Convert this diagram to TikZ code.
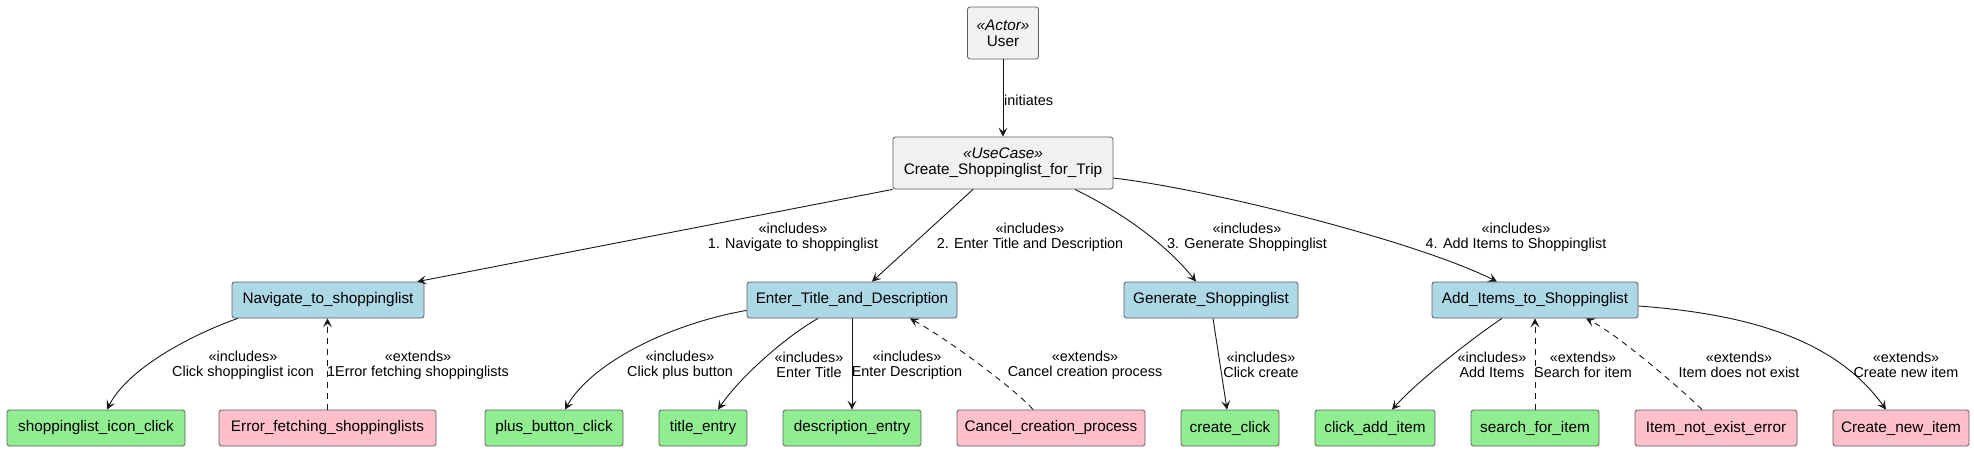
\documentclass[tikz,border=0pt]{standalone}
\usepackage{fontspec}
\setmainfont{Liberation Sans}
\usetikzlibrary{arrows.meta,calc}
\definecolor{boxgray}{HTML}{F1F1F1}
\definecolor{boxblue}{HTML}{ADD8E6}
\definecolor{boxgreen}{HTML}{90EE90}
\definecolor{boxpink}{HTML}{FFC0CB}
\definecolor{edgecol}{HTML}{181818}
\definecolor{bordercol}{HTML}{5E5E5E}
\begin{document}
\begin{tikzpicture}[x=1pt,y=-1pt,
  box/.style={draw=bordercol,line width=0.8pt,rounded corners=2.5pt,inner sep=0pt,
    minimum height=36pt,font=\fontsize{15.3}{16}\selectfont,align=center,text=black},
  gbox/.style={box,fill=boxgray,minimum height=52pt},
  bbox/.style={box,fill=boxblue},
  grbox/.style={box,fill=boxgreen},
  pbox/.style={box,fill=boxpink},
  rel/.style={draw=edgecol,line width=0.9pt,-{Stealth[length=9pt,width=9pt,inset=4pt]}},
  ext/.style={rel,dash pattern=on 6pt off 5pt},
  lbl/.style={font=\fontsize{14.4}{14.7}\selectfont,align=center,inner sep=0pt,text=black}
]
\fill[white] (0,0) rectangle (1974,451);
\useasboundingbox (0,0) rectangle (1974,451);

% top
\node[gbox,minimum width=71pt] (user) at (1003,33) {{\itshape «Actor»}\\User};
\node[gbox,minimum width=220pt] (create) at (1003,163) {{\itshape «UseCase»}\\Create\_Shoppinglist\_for\_Trip};

% middle row
\node[bbox,minimum width=192pt] (nav) at (328,300) {Navigate\_to\_shoppinglist};
\node[bbox,minimum width=210pt] (enter) at (852,300) {Enter\_Title\_and\_Description};
\node[bbox,minimum width=174pt] (gen) at (1211,300) {Generate\_Shoppinglist};
\node[bbox,minimum width=206pt] (add) at (1535,300) {Add\_Items\_to\_Shoppinglist};

% bottom row
\node[grbox,minimum width=178pt] (icon) at (96,428) {shoppinglist\_icon\_click};
\node[pbox,minimum width=217pt] (err) at (327.5,428) {Error\_fetching\_shoppinglists};
\node[grbox,minimum width=138pt] (plus) at (554,428) {plus\_button\_click};
\node[grbox,minimum width=88pt] (title) at (703,428) {title\_entry};
\node[grbox,minimum width=138pt] (desc) at (852,428) {description\_entry};
\node[pbox,minimum width=188pt] (cancel) at (1051,428) {Cancel\_creation\_process};
\node[grbox,minimum width=98pt] (cclick) at (1230,428) {create\_click};
\node[grbox,minimum width=120pt] (caddi) at (1375,428) {click\_add\_item};
\node[grbox,minimum width=128pt] (search) at (1535,428) {search\_for\_item};
\node[pbox,minimum width=162pt] (inee) at (1716,428) {Item\_not\_exist\_error};
\node[pbox,minimum width=136pt] (cnew) at (1901,428) {Create\_new\_item};

% connectors
\draw[rel] (user.south) -- (create.north);
\node[lbl,anchor=west] (linit) at (1004,100) {initiates};

\draw[rel] (create.south west) -- ($(nav.north east)+(-7,0)$);
\node[lbl] (l1) at (793,237) {«includes»\\1. Navigate to shoppinglist};

\draw[rel] ($(create.south)+(-30,0)$) -- ($(enter.north)+(20,0)$);
\node[lbl] (l2) at (1030,237) {«includes»\\2. Enter Title and Description};

\draw[rel] ($(create.south)+(72,0)$) .. controls +(45,22) and +(-30,-38) .. ($(gen.north)+(-15,0)$);
\node[lbl] (l3) at (1247,237) {«includes»\\3. Generate Shoppinglist};

\draw[rel] ($(create.east)+(0,15)$) .. controls +(100,12) and +(-80,-40) .. ($(add.north)+(-38,0)$);
\node[lbl] (l4) at (1516,237) {«includes»\\4. Add Items to Shoppinglist};

\draw[rel] ($(nav.south west)+(6,0)$) .. controls +(-50,18) and +(20,-40) .. ($(icon.north)+(11,0)$);
\node[lbl] (l5) at (243,365) {«includes»\\Click shoppinglist icon};

\draw[ext] (err.north) -- (err.north |- nav.south);
\node[lbl] (l6) at (418,365) {«extends»\\1Error fetching shoppinglists};

\draw[rel] ($(enter.south west)+(0,-8)$) .. controls +(-80,14) and +(25,-45) .. ($(plus.north)+(11,0)$);
\node[lbl] (l7) at (680,365) {«includes»\\Click plus button};

\draw[rel] ($(enter.south)+(-34,0)$) .. controls +(-35,20) and +(20,-30) .. ($(title.north)+(15,0)$);
\node[lbl] (l8) at (809,365) {«includes»\\Enter Title};

\draw[rel] (enter.south) -- (desc.north);
\node[lbl] (l9) at (907,365) {«includes»\\Enter Description};

\draw[ext] ($(cancel.north)+(-18,0)$) .. controls +(-15,-18) and +(40,22) .. ($(enter.south)+(58,0)$);
\node[lbl] (l10) at (1085,365) {«extends»\\Cancel creation process};

\draw[rel] ($(gen.south)+(2,0)$) -- ($(cclick.north)+(-3,0)$);
\node[lbl] (l11) at (1261,365) {«includes»\\Click create};

\draw[rel] ($(add.south)+(-33,0)$) .. controls +(-30,20) and +(25,-28) .. ($(caddi.north)+(17,0)$);
\node[lbl] (l12) at (1492,365) {«includes»\\Add Items};

\draw[ext] (search.north) -- (search.north |- add.south);
\node[lbl] (l13) at (1583,365) {«extends»\\Search for item};

\draw[ext] ($(inee.north)+(-14,0)$) .. controls +(-15,-15) and +(35,18) .. ($(add.south)+(51,0)$);
\node[lbl] (l14) at (1739,365) {«extends»\\Item does not exist};

\draw[rel] ($(add.east)+(0,6)$) .. controls +(110,8) and +(-50,-70) .. ($(cnew.north)+(-15,0)$);
\node[lbl] (l15) at (1906,365) {«extends»\\Create new item};
\end{tikzpicture}
\end{document}
